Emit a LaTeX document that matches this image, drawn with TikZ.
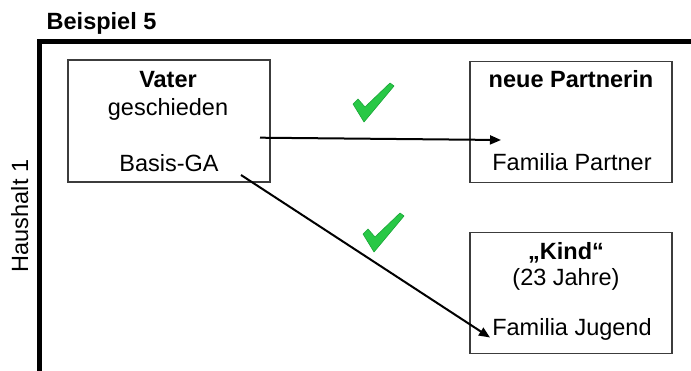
\documentclass[tikz,border=0pt]{standalone}
\usepackage{fontspec}
\setmainfont{Liberation Sans}
\usetikzlibrary{arrows.meta}
\definecolor{checkgreen}{RGB}{40,200,70}
\definecolor{checkedge}{RGB}{25,165,55}
\definecolor{boxline}{RGB}{60,60,60}
\begin{document}
\begin{tikzpicture}[x=1pt,y=-1pt,
  every node/.style={font=\fontsize{23.5}{28}\selectfont, inner sep=0pt},
  hbox/.style={draw=boxline, line width=1.3pt, minimum width=202pt},
  txt/.style={anchor=base},
  btxt/.style={anchor=base, font=\fontsize{23.5}{28}\selectfont\bfseries},
  arr/.style={line width=2pt, -{Triangle[length=11pt,width=9pt]}},
  check/.pic={
    \filldraw[fill=checkgreen, draw=checkedge, line width=0.6pt, line join=round]
      (0,21) -- (5,16) -- (12,24) -- (37,0) -- (41,3) -- (11,39) -- cycle;
  }]
\useasboundingbox (0,0) rectangle (691,371);
% frame
\draw[line width=5pt, line join=miter] (39.5,380) -- (39.5,42) -- (700,42);
\node[btxt, anchor=base west] (title) at (46.5,30) {Beispiel 5};
\node[rotate=90, anchor=base] (hh) at (28,216) {Haushalt 1};
% boxes
\node[hbox, minimum height=122pt] (vater) at (169,121) {};
\node[hbox, minimum height=121pt] (partner) at (571,122) {};
\node[hbox, minimum height=121pt] (kind) at (571,293) {};
% texts
\node[btxt] (t1) at (168,87.3) {Vater};
\node[txt] (t2) at (168,116) {geschieden};
\node[txt] (t3) at (169,171.5) {Basis-GA};
\node[btxt] (t4) at (571,87.3) {neue Partnerin};
\node[txt] (t5) at (572,171) {Familia Partner};
\node[btxt] (t6) at (566,260) {„Kind“};
\node[txt] (t7) at (566,285.5) {(23 Jahre)};
\node[txt] (t8) at (572,335.5) {Familia Jugend};
% connectors
\coordinate (a1s) at (260,137.7);
\coordinate (a1e) at (501,140);
\coordinate (a2s) at (241,175);
\coordinate (a2e) at (490,337.5);
\draw[arr] (a1s) -- (a1e);
\draw[arr] (a2s) -- (a2e);
% checkmarks
\pic at (353,83) {check};
\pic at (363,213) {check};
\end{tikzpicture}
\end{document}
